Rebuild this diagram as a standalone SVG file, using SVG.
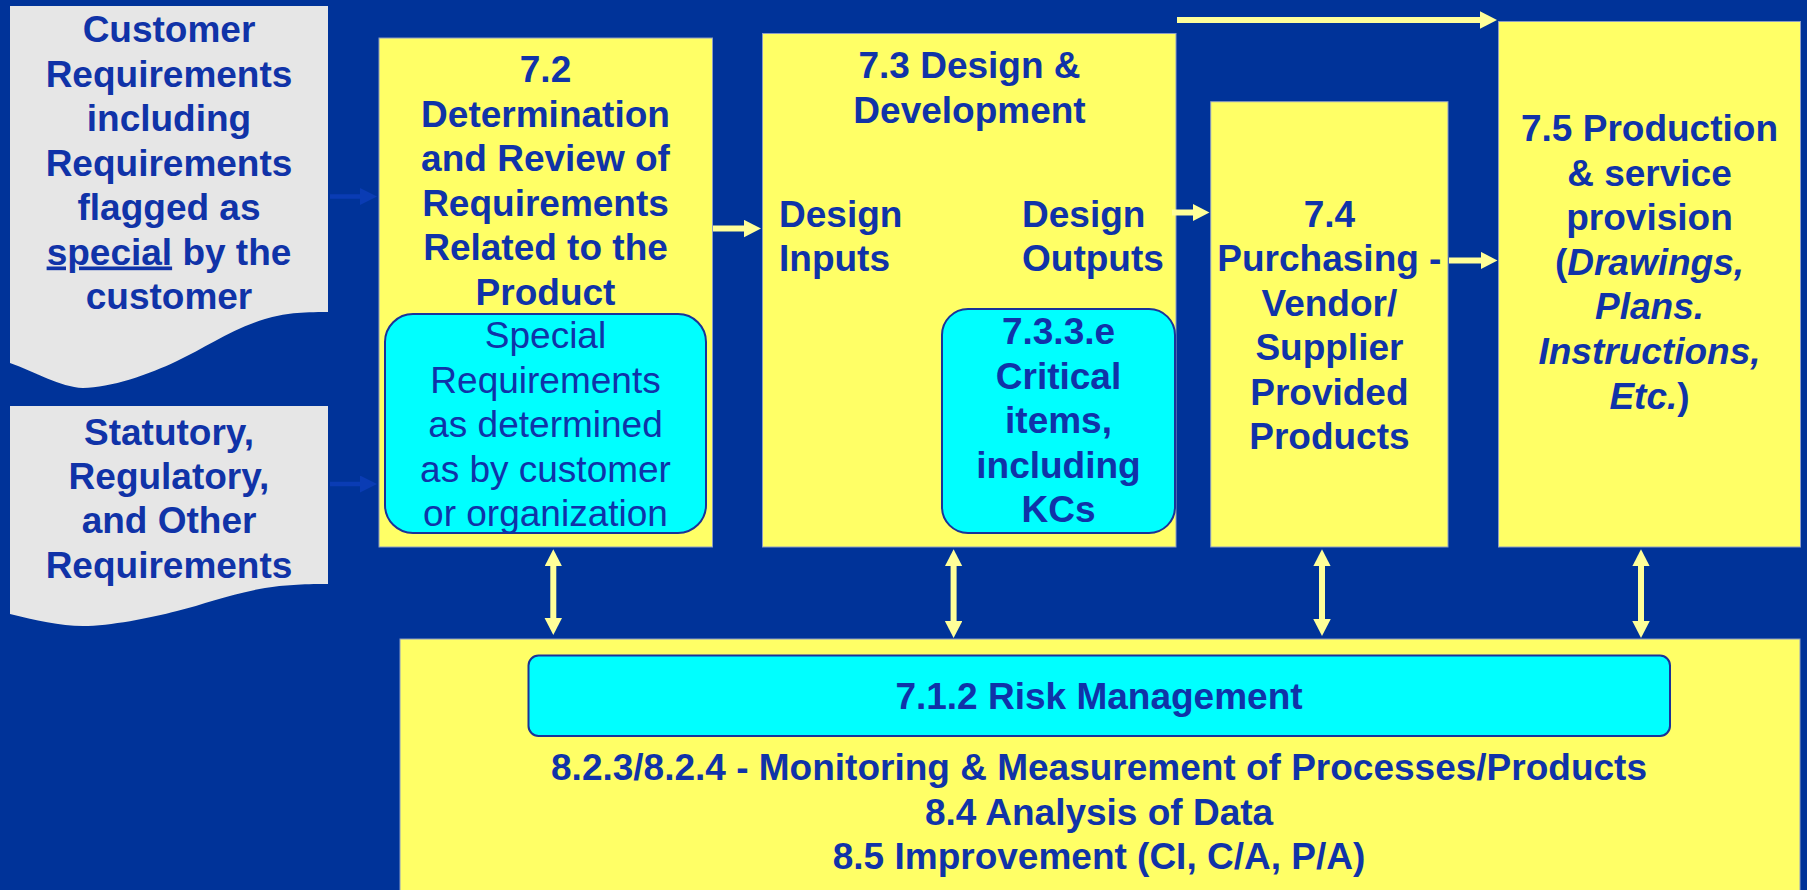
<svg xmlns="http://www.w3.org/2000/svg" width="1807" height="890" viewBox="0 0 1807 890">
<style>
.t{font-family:"Liberation Sans",Arial,sans-serif;font-weight:bold;font-size:37px;fill:#1033a8;text-anchor:middle}
.r{font-weight:normal}
.l{text-anchor:start}
.i{font-style:italic}
.doc{fill:#e6e6e6}
.box{fill:#ffff66;stroke:#8c9cc4;stroke-width:1}
.cy{fill:#00ffff;stroke:#1a3399;stroke-width:2}
.ya{stroke:#ffff99;stroke-width:6;fill:none}
.ba{stroke:#0a3cb4;stroke-width:4.5;fill:none}
</style>
<defs>
<marker id="yh" markerUnits="userSpaceOnUse" markerWidth="18" markerHeight="18" refX="7" refY="8.75" orient="auto-start-reverse" viewBox="0 0 18 18">
<path d="M0,0 L17,8.75 L0,17.5 Z" fill="#ffff99"/>
</marker>
<marker id="bh" markerUnits="userSpaceOnUse" markerWidth="18" markerHeight="18" refX="7" refY="8.5" orient="auto" viewBox="0 0 18 18">
<path d="M0,0 L17,8.5 L0,17 Z" fill="#0a3cb4"/>
</marker>
</defs>
<rect width="1807" height="890" fill="#003399"/>

<g id="customer-req">
<path class="doc" d="M10,6 H328 V312 C300,312 285,313 265,319 C230,330 205,348 177,361 C150,374 110,388 83,388 C60,387 35,372 10,363 Z"/>
<text class="t"><tspan x="169" y="42">Customer</tspan><tspan x="169" y="86.5">Requirements</tspan><tspan x="169" y="131">including</tspan><tspan x="169" y="175.5">Requirements</tspan><tspan x="169" y="220">flagged as</tspan><tspan x="169" y="264.5"><tspan text-decoration="underline">special</tspan> by the</tspan><tspan x="169" y="309">customer</tspan></text>
</g>

<g id="statutory-req">
<path class="doc" d="M10,406 H328 V584 C300,584 285,585 265,588 C230,594 205,604 177,611 C150,618 110,626 83,626 C60,626 35,620 10,614 Z"/>
<text class="t"><tspan x="169" y="445">Statutory,</tspan><tspan x="169" y="489">Regulatory,</tspan><tspan x="169" y="533">and Other</tspan><tspan x="169" y="577.5">Requirements</tspan></text>
</g>

<g id="n72">
<rect class="box" x="379" y="38" width="333.5" height="509"/>
<text class="t"><tspan x="545.5" y="82">7.2</tspan><tspan x="545.5" y="126.6">Determination</tspan><tspan x="545.5" y="171.2">and Review of</tspan><tspan x="545.5" y="215.8">Requirements</tspan><tspan x="545.5" y="260.4">Related to the</tspan><tspan x="545.5" y="305">Product</tspan></text>
</g>

<g id="special-req">
<rect class="cy" x="385" y="314" width="321" height="219" rx="28"/>
<text class="t r"><tspan x="545.5" y="348">Special</tspan><tspan x="545.5" y="392.6">Requirements</tspan><tspan x="545.5" y="437.2">as determined</tspan><tspan x="545.5" y="481.8">as by customer</tspan><tspan x="545.5" y="526.4">or organization</tspan></text>
</g>

<g id="n73">
<rect class="box" x="762.5" y="33.5" width="413.5" height="513.5"/>
<text class="t"><tspan x="969.5" y="78.4">7.3 Design &amp;</tspan><tspan x="969.5" y="123">Development</tspan></text>
<text class="t l"><tspan x="779" y="226.5">Design</tspan><tspan x="779" y="271">Inputs</tspan></text>
<text class="t l"><tspan x="1022" y="226.5">Design</tspan><tspan x="1022" y="271">Outputs</tspan></text>
</g>

<g id="n733e">
<rect class="cy" x="942" y="309" width="233" height="224" rx="26"/>
<text class="t"><tspan x="1058.5" y="344">7.3.3.e</tspan><tspan x="1058.5" y="388.6">Critical</tspan><tspan x="1058.5" y="433.2">items,</tspan><tspan x="1058.5" y="477.8">including</tspan><tspan x="1058.5" y="522.4">KCs</tspan></text>
</g>

<g id="n74">
<rect class="box" x="1210.7" y="101.7" width="237.3" height="445.3"/>
<text class="t"><tspan x="1329.4" y="226.5">7.4</tspan><tspan x="1329.4" y="271">Purchasing -</tspan><tspan x="1329.4" y="315.6">Vendor/</tspan><tspan x="1329.4" y="360.2">Supplier</tspan><tspan x="1329.4" y="404.8">Provided</tspan><tspan x="1329.4" y="449.4">Products</tspan></text>
</g>

<g id="n75">
<rect class="box" x="1498.5" y="21.5" width="302" height="525.5"/>
<text class="t"><tspan x="1649.5" y="141">7.5 Production</tspan><tspan x="1649.5" y="185.6">&amp; service</tspan><tspan x="1649.5" y="230.2">provision</tspan><tspan x="1649.5" y="274.8">(<tspan class="i">Drawings,</tspan></tspan><tspan x="1649.5" y="319.4" class="i">Plans.</tspan><tspan x="1649.5" y="364" class="i">Instructions,</tspan><tspan x="1649.5" y="408.6"><tspan class="i">Etc.</tspan>)</tspan></text>
</g>

<g id="n8">
<rect class="box" x="400" y="639" width="1400" height="260"/>
<text class="t"><tspan x="1099" y="780">8.2.3/8.2.4 - Monitoring &amp; Measurement of Processes/Products</tspan><tspan x="1099" y="824.5">8.4 Analysis of Data</tspan><tspan x="1099" y="869">8.5 Improvement (CI, C/A, P/A)</tspan></text>
</g>

<g id="n712">
<rect class="cy" x="528.5" y="655.5" width="1141.5" height="80.5" rx="10"/>
<text class="t" x="1099" y="709">7.1.2 Risk Management</text>
</g>

<g id="connectors">
<line class="ba" x1="330" y1="196.5" x2="367" y2="196.5" marker-end="url(#bh)"/>
<line class="ba" x1="330" y1="484" x2="367" y2="484" marker-end="url(#bh)"/>
<line class="ya" x1="713" y1="228.6" x2="751" y2="228.6" marker-end="url(#yh)"/>
<line class="ya" x1="1172" y1="212.5" x2="1199.5" y2="212.5" marker-end="url(#yh)"/>
<line class="ya" x1="1449" y1="260.4" x2="1487.5" y2="260.4" marker-end="url(#yh)"/>
<line class="ya" x1="1177" y1="20" x2="1487" y2="20" marker-end="url(#yh)"/>
<line class="ya" x1="553.3" y1="559.3" x2="553.3" y2="625" marker-start="url(#yh)" marker-end="url(#yh)"/>
<line class="ya" x1="953.6" y1="559.3" x2="953.6" y2="628" marker-start="url(#yh)" marker-end="url(#yh)"/>
<line class="ya" x1="1322" y1="559.3" x2="1322" y2="626" marker-start="url(#yh)" marker-end="url(#yh)"/>
<line class="ya" x1="1641" y1="559.3" x2="1641" y2="628" marker-start="url(#yh)" marker-end="url(#yh)"/>
</g>
</svg>
